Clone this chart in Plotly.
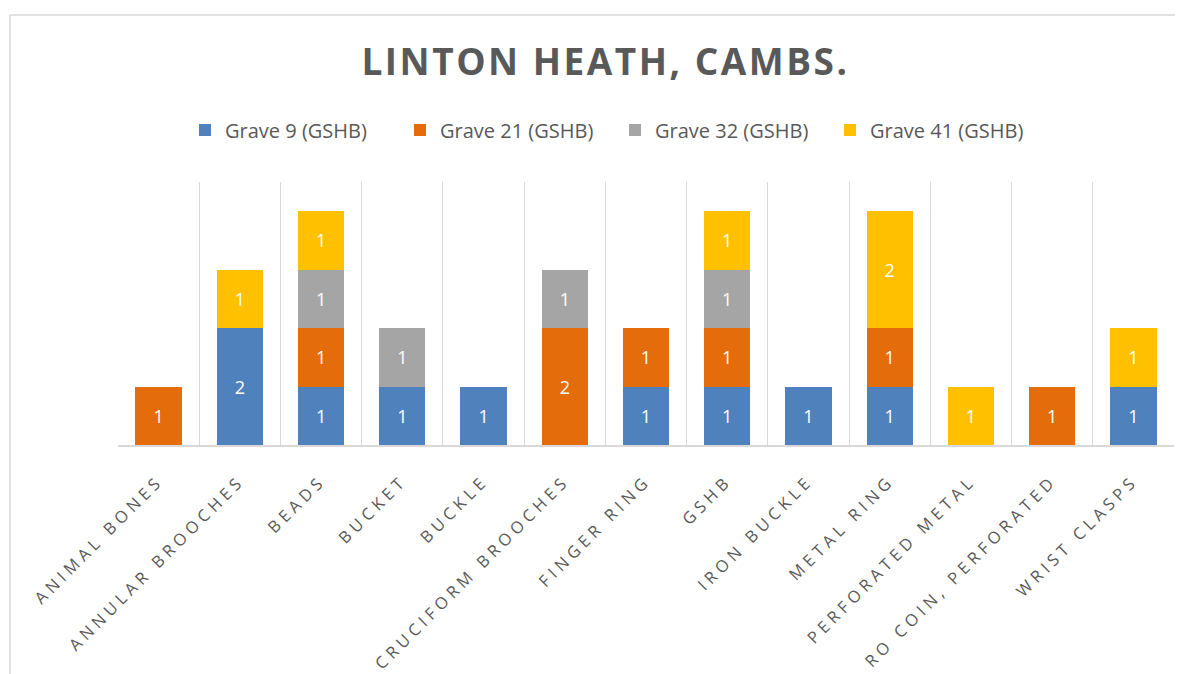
import plotly.graph_objects as go

categories = ["ANIMAL BONES", "ANNULAR BROOCHES", "BEADS", "BUCKET", "BUCKLE",
              "CRUCIFORM BROOCHES", "FINGER RING", "GSHB", "IRON BUCKLE",
              "METAL RING", "PERFORATED METAL", "RO COIN, PERFORATED", "WRIST CLASPS"]
series_names = ["Grave 9 (GSHB)", "Grave 21 (GSHB)", "Grave 32 (GSHB)", "Grave 41 (GSHB)"]
grave9 = [None, 2, 1, 1, 1, None, 1, 1, 1, 1, None, None, 1]
grave21 = [1, None, 1, None, None, 2, 1, 1, None, 1, None, 1, None]
grave32 = [None, None, 1, 1, None, 1, None, 1, None, None, None, None, None]
grave41 = [None, 1, 1, None, None, None, None, 1, None, 2, 1, None, 1]
colors = ["#4F81BD", "#E46C0A", "#A5A5A5", "#FFC000"]

W, H = 1175, 666
L, R, T, B = 110, 9, 174, 229
PW = W - L - R
PH = H - T - B

fig = go.Figure()
for name, vals, col in zip(series_names, [grave9, grave21, grave32, grave41], colors):
    fig.add_trace(go.Bar(
        x=categories, y=vals, name=name,
        marker=dict(color=col, line=dict(width=0)),
        text=[("" if v is None else str(v)) for v in vals],
        textposition="inside", insidetextanchor="middle",
        textfont=dict(color="white", size=18, family="Open Sans"),
        cliponaxis=False,
    ))

fig.update_layout(
    barmode="stack",
    bargap=0.43,
    width=W, height=H,
    margin=dict(l=L, r=R, t=T, b=B),
    paper_bgcolor="white", plot_bgcolor="white",
    font=dict(family="Open Sans", color="#595959"),
    title=dict(text="<b>LINTON HEATH, CAMBS.</b>", x=597.5 / W, xanchor="center",
               y=1 - 54 / H, yanchor="middle", yref="container",
               font=dict(size=37, color="#595959", family="Open Sans")),
    legend=dict(orientation="h", x=(177 - L) / PW, xanchor="left", y=(PH + T - 122) / PH,
                yanchor="middle", entrywidth=170, entrywidthmode="pixels",
                font=dict(size=20, color="#595959", family="Open Sans"), itemwidth=30,
                traceorder="normal", itemsizing="constant"),
    uniformtext=dict(minsize=10, mode="show"),
)
fig.update_xaxes(
    tickson="boundaries", showgrid=True, gridcolor="#D9D9D9", gridwidth=1,
    ticks="", showline=True, linecolor="#D9D9D9", linewidth=1.5,
    tickangle=-45, ticklabelstandoff=18,
    tickfont=dict(size=16.5, color="#595959", family="Open Sans"),
)
fig.update_yaxes(range=[0, 4.5], showgrid=False, zeroline=False,
                 showticklabels=False, showline=False)

# chart border (outer frame)
fx = (2 - L) / PW
fy = (PH + T - 7) / PH
fig.add_shape(type="line", xref="paper", yref="paper", x0=fx, x1=1.2, y0=fy, y1=fy,
              line=dict(color="#D9D9D9", width=1.5))
fig.add_shape(type="line", xref="paper", yref="paper", x0=fx, x1=fx, y0=fy, y1=-1.0,
              line=dict(color="#D9D9D9", width=1.5))

post = """
var gd = document.getElementById('{plot_id}');
function spacing(){
  gd.querySelectorAll('.xtick text').forEach(function(t){ t.style.letterSpacing = '4.5px'; });
  gd.querySelectorAll('.gtitle').forEach(function(t){ t.style.letterSpacing = '2.5px'; });
}
spacing();
gd.on('plotly_afterplot', spacing);
"""

fig.write_html("out.html", post_script=post)
